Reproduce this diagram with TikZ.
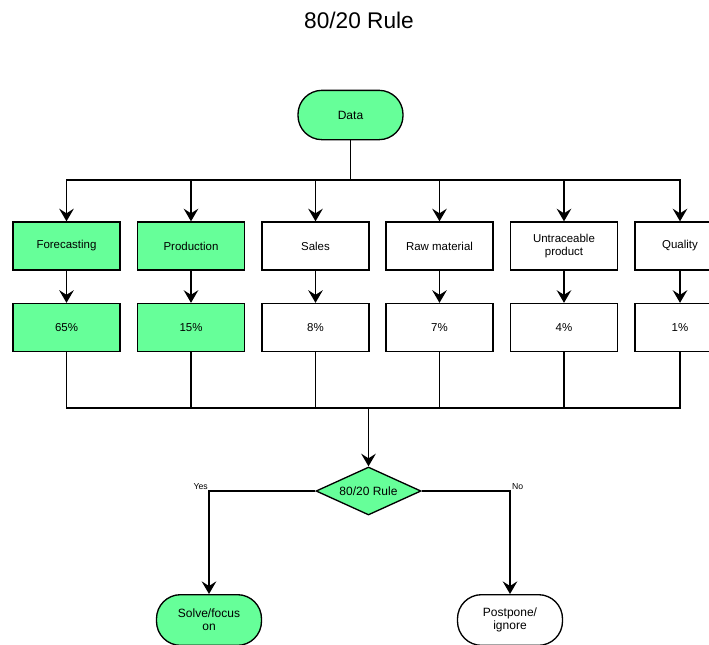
\documentclass[tikz,border=0pt]{standalone}
\usepackage{fontspec}
\setmainfont{Liberation Sans}
\usetikzlibrary{arrows.meta,shapes.geometric}
\definecolor{mygreen}{RGB}{102,255,153}
\tikzset{
  box/.style={draw=black,line width=1pt,rectangle,minimum width=80.25pt,minimum height=36pt,inner sep=1pt,align=center,font=\fontsize{8.6}{10}\selectfont},
  qbox/.style={box,minimum width=67.5pt},
  green/.style={fill=mygreen},
  term/.style={draw=black,line width=1pt,rectangle,rounded corners=18pt,minimum width=78.75pt,minimum height=37pt,inner sep=1pt,align=center,font=\fontsize{9}{10}\selectfont},
  dec/.style={draw=black,line width=1pt,diamond,aspect=2.19,minimum width=78.75pt,minimum height=36pt,inner sep=0pt,fill=mygreen,font=\fontsize{9}{10}\selectfont},
  conn/.style={draw=black,line width=1pt},
  arr/.style={conn,-{Stealth[length=9.5pt,width=11pt,inset=3.5pt]}},
  lbl/.style={font=\fontsize{6.5}{7}\selectfont,inner sep=0pt}
}
\begin{document}
\begin{tikzpicture}[x=0.75pt,y=-0.75pt]
\useasboundingbox (0,0) rectangle (709,644);
\clip (0,0) rectangle (709,644);
\node[font=\fontsize{17}{20}\selectfont] (title) at (359,20) {80/20 Rule};
\node[term,green] (data) at (350.5,115) {Data};
% row 1
\node[box,green] (a1) at (66.5,246) {Forecasting};
\node[box,green] (b1) at (191,246) {Production};
\node[box] (c1) at (315.5,246) {Sales};
\node[box] (d1) at (439.5,246) {Raw material};
\node[box] (e1) at (564,246) {Untraceable\\product};
\node[qbox] (f1) at (680,246) {Quality};
% row 2
\node[box,green] (a2) at (66.5,327.5) {65\%};
\node[box,green] (b2) at (191,327.5) {15\%};
\node[box] (c2) at (315.5,327.5) {8\%};
\node[box] (d2) at (439.5,327.5) {7\%};
\node[box] (e2) at (564,327.5) {4\%};
\node[qbox] (f2) at (680,327.5) {1\%};
% decision and ends
\node[dec] (rule) at (368.5,491) {80/20 Rule};
\node[term,green,minimum height=38pt] (solve) at (209,620) {Solve/focus\\on};
\node[term,minimum height=38pt] (post) at (510,620) {Postpone/\\ignore};
% connectors
\coordinate (bus) at (350.5,180);
\draw[conn] (data.south) -- (bus);
\foreach \n in {a1,b1,c1,d1,e1,f1}{\draw[arr] (bus) -| (\n.north);}
\draw[arr] (a1) -- (a2);
\draw[arr] (b1) -- (b2);
\draw[arr] (c1) -- (c2);
\draw[arr] (d1) -- (d2);
\draw[arr] (e1) -- (e2);
\draw[arr] (f1) -- (f2);
\coordinate (bus2) at (368.5,408);
\foreach \n in {a2,b2,c2,d2,e2,f2}{\draw[conn] (\n.south) |- (bus2);}
\draw[arr] (bus2) -- (rule.north);
\draw[arr] (rule.west) -| node[lbl,pos=0.5,anchor=south east,xshift=-0.5pt,yshift=0.5pt] {Yes} (solve.north);
\draw[arr] (rule.east) -| node[lbl,pos=0.5,anchor=south west,xshift=1pt,yshift=0.5pt] {No} (post.north);
\end{tikzpicture}
\end{document}
